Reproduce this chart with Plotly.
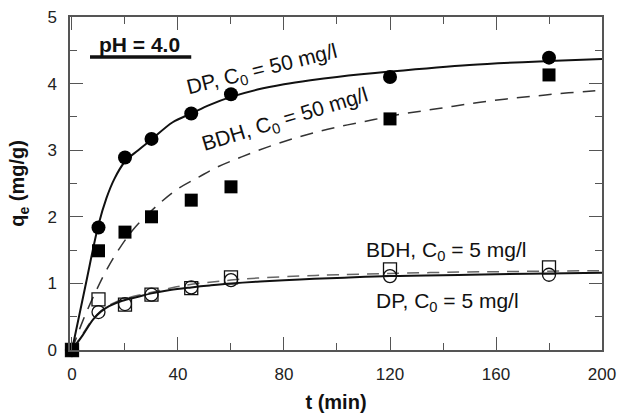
import plotly.graph_objects as go

# ---- measured data points ----
t_points = [0, 10, 20, 30, 45, 60, 120, 180]
dp50 = [0, 1.84, 2.89, 3.17, 3.55, 3.84, 4.10, 4.39]
bdh50 = [0, 1.49, 1.77, 2.00, 2.25, 2.45, 3.47, 4.13]
dp5 = [0, 0.57, 0.69, 0.83, 0.94, 1.05, 1.11, 1.13]
bdh5 = [0, 0.76, 0.68, 0.83, 0.93, 1.09, 1.21, 1.24]

# ---- fitted curves ----
dp50_fit_t = [0, 5, 10, 13, 16, 20, 25, 30, 38, 45, 52, 60, 70, 80, 90, 100, 120, 150, 180, 200]
dp50_fit_y = [0, 0.95, 1.88, 2.28, 2.57, 2.83, 3.00, 3.16, 3.42, 3.55, 3.68, 3.80, 3.91, 3.99, 4.05, 4.10, 4.18, 4.28, 4.34, 4.37]

bdh50_fit_t = [0, 4, 9, 13, 18, 24, 33, 40, 48, 55, 64, 74, 84, 94, 104, 114, 124, 134, 144, 154, 164, 174, 184, 194, 200]
bdh50_fit_y = [0, 0.43, 0.88, 1.20, 1.53, 1.85, 2.20, 2.42, 2.60, 2.75, 2.90, 3.05, 3.18, 3.29, 3.38, 3.46, 3.54, 3.60, 3.66, 3.72, 3.77, 3.81, 3.85, 3.88, 3.90]

dp5_fit_t = [0, 4, 8, 11, 14, 19, 25, 30, 37, 45, 52, 60, 71, 86, 100, 120, 150, 180, 200]
dp5_fit_y = [0, 0.22, 0.46, 0.58, 0.66, 0.74, 0.80, 0.85, 0.90, 0.94, 0.97, 1.00, 1.03, 1.06, 1.08, 1.11, 1.13, 1.15, 1.16]

bdh5_fit_t = [0, 4, 8, 12, 16, 21, 26, 31, 36, 41, 50, 60, 70, 86, 100, 120, 146, 170, 196, 200]
bdh5_fit_y = [0, 0.24, 0.47, 0.62, 0.71, 0.78, 0.83, 0.875, 0.92, 0.96, 1.01, 1.05, 1.08, 1.11, 1.13, 1.15, 1.17, 1.18, 1.19, 1.19]

x_ticks = [0, 40, 80, 120, 160, 200]
y_ticks = [0, 1, 2, 3, 4, 5]

FONT = "Liberation Sans, Arial, sans-serif"
AX = "#555555"

fig = go.Figure()

# curves
fig.add_trace(go.Scatter(x=bdh5_fit_t, y=bdh5_fit_y, mode="lines", line_shape="spline",
                         line=dict(color="#666666", width=1.5, dash="12px,8px")))
fig.add_trace(go.Scatter(x=dp5_fit_t, y=dp5_fit_y, mode="lines", line_shape="spline",
                         line=dict(color="#111111", width=2)))
fig.add_trace(go.Scatter(x=bdh50_fit_t, y=bdh50_fit_y, mode="lines", line_shape="spline",
                         line=dict(color="#333333", width=1.5, dash="13px,9px")))
fig.add_trace(go.Scatter(x=dp50_fit_t, y=dp50_fit_y, mode="lines", line_shape="spline",
                         line=dict(color="#111111", width=2)))

# markers
fig.add_trace(go.Scatter(x=t_points, y=dp5, mode="markers", cliponaxis=False,
                         marker=dict(symbol="circle-open", size=13, color="#111111", line=dict(width=1.3))))
fig.add_trace(go.Scatter(x=t_points, y=bdh5, mode="markers", cliponaxis=False,
                         marker=dict(symbol="square-open", size=13, color="#111111", line=dict(width=1.3))))
fig.add_trace(go.Scatter(x=t_points, y=dp50, mode="markers", cliponaxis=False,
                         marker=dict(symbol="circle", size=14, color="#000000")))
fig.add_trace(go.Scatter(x=t_points, y=bdh50, mode="markers", cliponaxis=False,
                         marker=dict(symbol="square", size=13, color="#000000")))

ann_font = dict(family=FONT, size=21, color="#111111")
annotations = [
    dict(x=71.8, y=4.20, text="DP, C<sub>0</sub> = 50 mg/l", textangle=-14),
    dict(x=80.5, y=3.45, text="BDH, C<sub>0</sub> = 50 mg/l", textangle=-17),
    dict(x=141.3, y=1.49, text="BDH, C<sub>0</sub> = 5 mg/l", textangle=0),
    dict(x=141.6, y=0.72, text="DP, C<sub>0</sub> = 5 mg/l", textangle=0),
]
for a in annotations:
    fig.add_annotation(xref="x", yref="y", showarrow=False, font=ann_font, **a)

fig.add_annotation(xref="x", yref="y", x=25.3, y=4.59, text="<b>pH = 4.0</b>", showarrow=False,
                   font=dict(family=FONT, size=21, color="#111111"))
fig.add_shape(type="line", xref="x", yref="y", x0=6.8, x1=45, y0=4.40, y1=4.40,
              line=dict(color="#111111", width=3.5))

axis_common = dict(
    showgrid=False, zeroline=False, showline=True, linecolor=AX, linewidth=1.5,
    mirror="ticks", ticks="inside", ticklen=13, tickwidth=1.3, tickcolor=AX,
    tickfont=dict(family=FONT, size=17, color="#222222"), automargin=False,
    ticklabeloverflow="allow",
)

fig.update_xaxes(range=[-0.75, 200], tickvals=x_ticks, ticklabelstandoff=8,
                 minor=dict(dtick=20, tick0=0, ticks="inside", ticklen=7, tickwidth=1.3, tickcolor=AX),
                 title=dict(text="<b>t (min)</b>", font=dict(family=FONT, size=20, color="#111111"), standoff=12),
                 **axis_common)
fig.update_yaxes(range=[0, 5], tickvals=y_ticks, ticklabelstandoff=8,
                 minor=dict(dtick=0.5, tick0=0, ticks="inside", ticklen=7, tickwidth=1.3, tickcolor=AX),
                 title=dict(text="<b>q<sub>e</sub> (mg/g)</b>", font=dict(family=FONT, size=20, color="#111111"), standoff=17),
                 **axis_common)

fig.update_layout(
    width=618, height=414,
    margin=dict(l=70, r=16, t=17, b=64),
    paper_bgcolor="white", plot_bgcolor="white",
    showlegend=False,
)

fig.write_html("out.html", config={"displayModeBar": False},
               post_script="document.body.style.margin='0';document.body.style.overflow='hidden';")
